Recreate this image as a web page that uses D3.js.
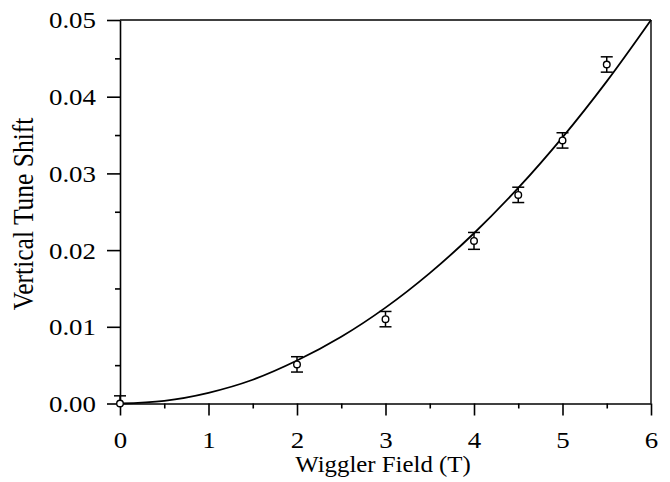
<!DOCTYPE html>
<html>
<head>
<meta charset="utf-8">
<script src="https://cdn.jsdelivr.net/npm/d3@7"></script>
<style>
  body { margin: 0; background: #fff; }
  svg text { font-family: "Liberation Serif", "Times New Roman", serif; fill: #000; }
</style>
</head>
<body>
<div></div>
<script>
const w = 670;
const h = 482;

// measured points
const field = [0, 2, 3, 4, 4.5, 5, 5.5];
const shift = [0, 0.0051, 0.011, 0.0212, 0.0272, 0.0343, 0.0442];
const errUp = [0.001, 0.001, 0.001, 0.0011, 0.001, 0.001, 0.001];
const errDown = [0, 0.001, 0.001, 0.0011, 0.001, 0.001, 0.001];

// fitted curve
const curveX = [0, 0.5, 1, 1.5, 2, 2.5, 3, 3.5, 4, 4.5, 5, 5.5, 6];
const curveY = [0, 0.00035, 0.0014, 0.0031, 0.0056, 0.0087, 0.0125, 0.0170, 0.0222, 0.0281, 0.0347, 0.0420, 0.05];

const xTicks = [0, 1, 2, 3, 4, 5, 6];
const xMinor = [0.5, 1.5, 2.5, 3.5, 4.5, 5.5];
const yTicks = [0, 0.01, 0.02, 0.03, 0.04, 0.05];
const yMinor = [0.005, 0.015, 0.025, 0.035, 0.045];

const stretch = 1.12;

const svg = d3.select("div").append("svg").attr("width", w).attr("height", h);

const xScale = d3.scaleLinear().domain([0, 6]).range([120, 651]);
const yScale = d3.scaleLinear().domain([0, 0.05]).range([403.5, 20]);

// frame: top and right
svg.append("line")
  .attr("x1", xScale(0)).attr("x2", xScale(6))
  .attr("y1", yScale(0.05)).attr("y2", yScale(0.05))
  .attr("stroke", "#000").attr("stroke-width", 1.4);
svg.append("line")
  .attr("x1", xScale(6)).attr("x2", xScale(6))
  .attr("y1", yScale(0.05)).attr("y2", yScale(0))
  .attr("stroke", "#000").attr("stroke-width", 1.4);

// x axis
const xAxis = svg.append("g")
  .attr("transform", "translate(0," + yScale(0) + ")")
  .call(d3.axisBottom(xScale).tickValues(xTicks).tickSize(12).tickSizeOuter(0).tickFormat(d3.format("d")));
svg.append("g")
  .attr("transform", "translate(0," + yScale(0) + ")")
  .call(d3.axisBottom(xScale).tickValues(xMinor).tickSize(5).tickSizeOuter(0).tickFormat(""))
  .select(".domain").remove();
xAxis.selectAll("text")
  .attr("y", 0).attr("dy", 0)
  .attr("transform", "translate(0,44) scale(" + stretch + ",1)")
  .style("font-size", "24px");

// y axis
const yAxis = svg.append("g")
  .attr("transform", "translate(" + xScale(0) + ",0)")
  .call(d3.axisLeft(yScale).tickValues(yTicks).tickSize(13).tickSizeOuter(0).tickFormat(d3.format(".2f")));
svg.append("g")
  .attr("transform", "translate(" + xScale(0) + ",0)")
  .call(d3.axisLeft(yScale).tickValues(yMinor).tickSize(5).tickSizeOuter(0).tickFormat(""))
  .select(".domain").remove();
yAxis.selectAll("text")
  .attr("x", 0).attr("dy", "0.33em")
  .attr("transform", "translate(-24,0) scale(" + stretch + ",1)")
  .style("font-size", "24px");

svg.selectAll(".domain, .tick line")
  .attr("stroke", "#000")
  .attr("stroke-width", 1.6);

// axis titles
svg.append("text")
  .attr("text-anchor", "middle")
  .attr("transform", "translate(" + 383 + ",472) scale(1.08,1)")
  .style("font-size", "23px")
  .text("Wiggler Field (T)");
svg.append("text")
  .attr("text-anchor", "middle")
  .attr("transform", "translate(33,214) scale(" + stretch + ",1) rotate(-90)")
  .style("font-size", "25.5px")
  .text("Vertical Tune Shift");

// fitted curve
const line = d3.line()
  .x((d, i) => xScale(curveX[i]))
  .y((d) => yScale(d))
  .curve(d3.curveCatmullRom);
svg.append("path")
  .attr("d", line(curveY))
  .attr("fill", "none")
  .attr("stroke", "#000")
  .attr("stroke-width", 1.8);

// error bars
const pts = field.map((f, i) => ({ x: f, y: shift[i], up: errUp[i], down: errDown[i] }));
const bars = svg.append("g").attr("stroke", "#000").attr("stroke-width", 1.5);
pts.forEach((d) => {
  const cx = xScale(d.x);
  const top = yScale(d.y + d.up);
  const bot = yScale(d.y - d.down);
  bars.append("line").attr("x1", cx).attr("x2", cx).attr("y1", top).attr("y2", bot);
  bars.append("line").attr("x1", cx - 6).attr("x2", cx + 6).attr("y1", top).attr("y2", top);
  if (d.down > 0) {
    bars.append("line").attr("x1", cx - 6).attr("x2", cx + 6).attr("y1", bot).attr("y2", bot);
  }
});

// markers
svg.selectAll("circle.pt")
  .data(pts)
  .enter()
  .append("circle")
  .attr("class", "pt")
  .attr("cx", (d) => xScale(d.x))
  .attr("cy", (d) => yScale(d.y))
  .attr("r", 3.3)
  .attr("fill", "#fff")
  .attr("stroke", "#000")
  .attr("stroke-width", 1.4);
</script>
</body>
</html>
